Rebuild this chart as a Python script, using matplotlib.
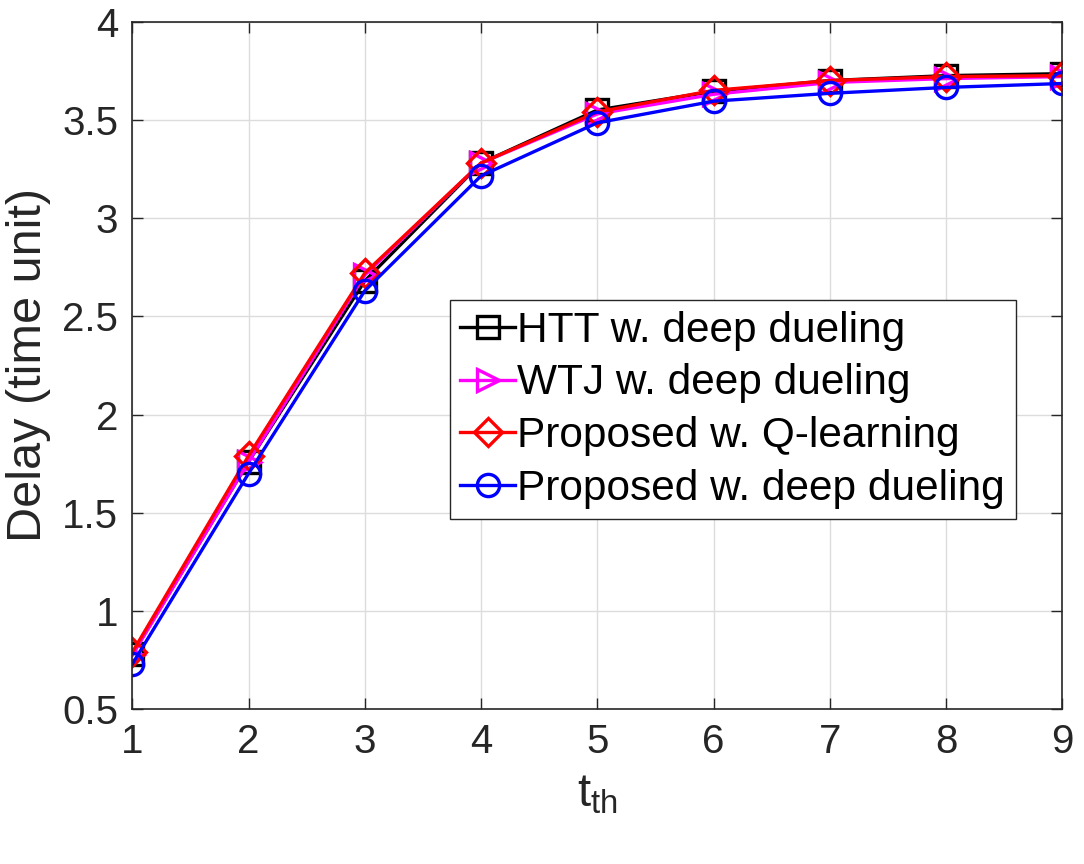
import numpy as np
import matplotlib.pyplot as plt

plt.rcParams['font.family'] = ['Liberation Sans', 'DejaVu Sans']
plt.rcParams['mathtext.fontset'] = 'custom'
plt.rcParams['mathtext.rm'] = 'Liberation Sans'
plt.rcParams['mathtext.it'] = 'Liberation Sans'
plt.rcParams['mathtext.default'] = 'regular'

# data
t_th = [1, 2, 3, 4, 5, 6, 7, 8, 9]
htt_dd = [0.78, 1.76, 2.68, 3.28, 3.55, 3.645, 3.70, 3.725, 3.735]
wtj_dd = [0.775, 1.76, 2.71, 3.28, 3.53, 3.63, 3.69, 3.71, 3.72]
prop_q = [0.79, 1.79, 2.72, 3.28, 3.54, 3.65, 3.70, 3.72, 3.725]
prop_dd = [0.73, 1.70, 2.63, 3.215, 3.485, 3.595, 3.635, 3.665, 3.685]

fig = plt.figure(figsize=(10.84, 8.64), dpi=100)
ax = fig.add_axes([0.122, 0.179, 0.858, 0.796])

style = dict(linewidth=2.4, markersize=16, markeredgewidth=2.4, markerfacecolor='none')
ax.plot(t_th, htt_dd, color='black', marker='s', label='HTT w. deep dueling', **style)
ax.plot(t_th, wtj_dd, color='magenta', marker='>', label='WTJ w. deep dueling', **style)
ax.plot(t_th, prop_q, color='red', marker='D', label='Proposed w. Q-learning',
        linewidth=2.4, markersize=14, markeredgewidth=2.4, markerfacecolor='none')
ax.plot(t_th, prop_dd, color='blue', marker='o', label='Proposed w. deep dueling', **style)

ax.set_xlim(1, 9)
ax.set_ylim(0.5, 4)
ax.set_xticks(np.arange(1, 10))
ax.set_yticks(np.arange(0.5, 4.01, 0.5))
ax.set_yticklabels(['0.5', '1', '1.5', '2', '2.5', '3', '3.5', '4'])
ax.grid(True, color='#dcdcdc', linewidth=1)
ax.set_axisbelow(True)
for s in ax.spines.values():
    s.set_color('#262626')
    s.set_linewidth(1.2)
ax.tick_params(direction='in', length=8, width=1, colors='#262626', labelsize=29,
               top=True, right=True, pad=10)

ax.set_xlabel('t$_{th}$', fontsize=34, color='#262626', labelpad=8)
ax.set_ylabel('Delay (time unit)', fontsize=35, color='#262626', labelpad=8)

leg = ax.legend(loc='upper right', bbox_to_anchor=(0.95, 0.595), fontsize=30.5,
                handlelength=1.3, handletextpad=0.05, labelspacing=0.3,
                borderpad=0.25, borderaxespad=0, fancybox=False, framealpha=1)
leg.get_frame().set_edgecolor('#262626')
leg.get_frame().set_linewidth(1)

fig.savefig('out.png', dpi=100)
